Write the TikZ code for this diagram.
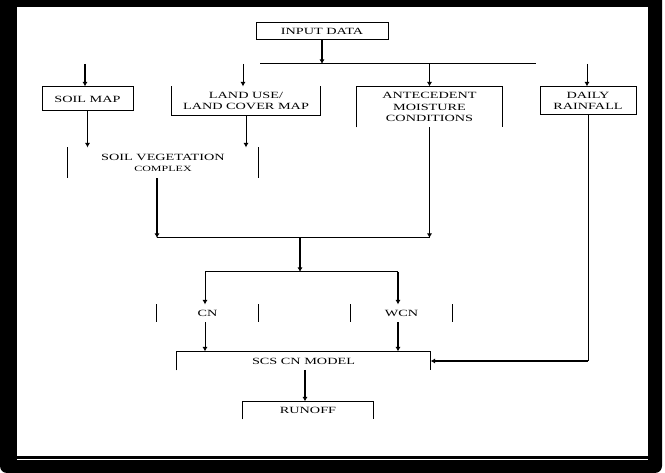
\documentclass[tikz,border=0pt]{standalone}
\usepackage{fontspec}
\newfontfamily\diagfont[FakeStretch=1.5]{Liberation Serif}
\usetikzlibrary{arrows.meta}
\begin{document}
\begin{tikzpicture}[x=1pt,y=-1pt,
  line width=1pt,
  >={Latex[length=4.5pt,width=5pt]},
  lbl/.style={inner sep=0pt, align=center, font=\diagfont\fontsize{9.5}{11.5}\selectfont},
  thk/.style={line width=1.9pt},
  med/.style={line width=1.4pt}
]
\useasboundingbox (0,0) rectangle (665,473);
% frame
\fill[black] (0,0) -- (662,0) [rounded corners=7pt]-- (662,473) -- (0,473) [sharp corners]-- cycle;
\fill[white] (17,7) rectangle (648,456.5);
\draw[white, line width=1pt] (17,459.5) -- (648,459.5);

% nodes
\node[lbl, draw, minimum width=132pt, minimum height=17pt] (input) at (322,31.5) {INPUT DATA};
\node[lbl, draw, minimum width=91pt, minimum height=24pt] (soil) at (87.5,99) {SOIL MAP};
\node[lbl, minimum width=148pt, minimum height=28pt] (land) at (246,101) {LAND USE/\\LAND COVER MAP};
\node[lbl, minimum width=145pt, minimum height=40pt] (ant) at (429.5,107) {ANTECEDENT\\MOISTURE\\CONDITIONS};
\node[lbl, draw, minimum width=96pt, minimum height=28pt] (rain) at (588,101) {DAILY\\RAINFALL};
\node[lbl, minimum width=190pt, minimum height=30pt] (svc) at (163,163) {SOIL VEGETATION\\{\fontsize{8}{11.5}\selectfont COMPLEX}};
\node[lbl, minimum width=101pt, minimum height=17pt] (cn) at (207.5,313.5) {CN};
\node[lbl, minimum width=101pt, minimum height=17pt] (wcn) at (401.5,313.5) {WCN};
\node[lbl, minimum width=253pt, minimum height=18pt] (scs) at (303.5,361) {SCS CN MODEL};
\node[lbl, minimum width=130pt, minimum height=17pt] (runoff) at (308,410.5) {RUNOFF};

% partial box outlines
\draw (land.north west) -- (land.south west) -- (land.south east) -- (land.north east);
\draw (ant.south west) -- (ant.north west) -- (ant.north east) -- (ant.south east);
\draw[thk] (svc.north west) -- (svc.south west);
\draw (svc.north east) -- (svc.south east);
\draw (cn.north west) -- (cn.south west);
\draw (cn.north east) -- (cn.south east);
\draw (wcn.north west) -- (wcn.south west);
\draw (wcn.north east) -- (wcn.south east);
\draw (scs.south west) -- (scs.north west) -- (scs.north east) -- (scs.south east);
\draw (runoff.south west) -- (runoff.north west) -- (runoff.north east) -- (runoff.south east);

% coordinates
\coordinate (busL) at (260,64);
\coordinate (busR) at (536,64);
\coordinate (inS) at (85,64);
\coordinate (inL) at (243,64);
\coordinate (inR) at (587,64);
\coordinate (j1) at (157,238);
\coordinate (j2) at (429.5,238);
\coordinate (jm) at (300,238);
\coordinate (k1) at (205,272);
\coordinate (k2) at (398,272);
\coordinate (km) at (300,272);
\coordinate (rc) at (588,361);
\coordinate (sr) at (305,370);

% connectors
\draw[med,->] (input.south) -- (input.south |- busL);
\draw (busL) -- (busR);
\draw[->] (ant.north |- busL) -- (ant.north);
\draw[thk,->] (inS) -- (inS |- soil.north);
\draw[->] (inL) -- (inL |- land.north);
\draw[->] (inR) -- (inR |- rain.north);
\draw[thk,->] (soil.south) -- (soil.south |- svc.north);
\draw[->] (land.south) -- (land.south |- svc.north);
\draw[med,->] (j1 |- svc.south) -- (j1);
\draw[->] (ant.south) -- (j2);
\draw (j1) -- (j2);
\draw[thk,->] (jm) -- (km);
\draw (k1) -- (k2);
\draw[->] (k1) -- (k1 |- cn.north);
\draw[med,->] (k2) -- (k2 |- wcn.north);
\draw[->] (k1 |- cn.south) -- (k1 |- scs.north);
\draw[med,->] (k2 |- wcn.south) -- (k2 |- scs.north);
\draw (rain.south) -- (rc);
\draw[thk,->] (rc) -- (scs.east);
\draw[thk,->] (sr) -- (sr |- runoff.north);
\end{tikzpicture}
\end{document}
